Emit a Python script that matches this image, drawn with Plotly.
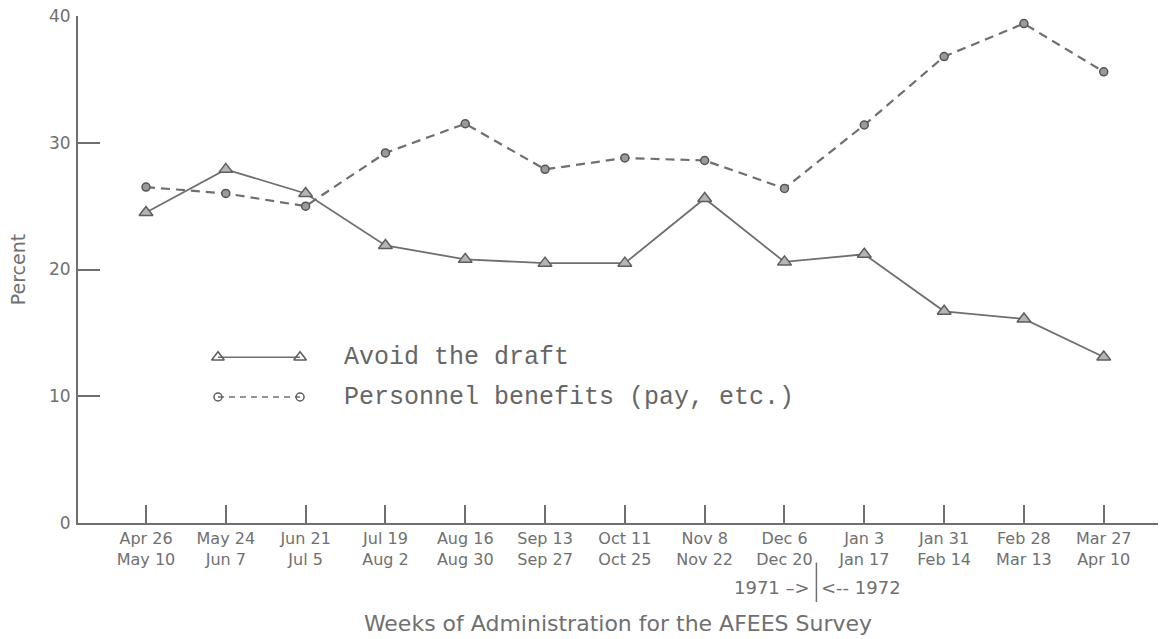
import plotly.graph_objects as go

periods_top = ["Apr 26", "May 24", "Jun 21", "Jul 19", "Aug 16", "Sep 13", "Oct 11",
               "Nov 8", "Dec 6", "Jan 3", "Jan 31", "Feb 28", "Mar 27"]
periods_bottom = ["May 10", "Jun 7", "Jul 5", "Aug 2", "Aug 30", "Sep 27", "Oct 25",
                  "Nov 22", "Dec 20", "Jan 17", "Feb 14", "Mar 13", "Apr 10"]
avoid_draft = [24.5, 27.9, 26.0, 21.9, 20.8, 20.5, 20.5, 25.6, 20.6, 21.2, 16.7, 16.1, 13.1]
personnel_benefits = [26.5, 26.0, 25.0, 29.2, 31.5, 27.9, 28.8, 28.6, 26.4, 31.4, 36.8, 39.4, 35.6]
y_ticks = [0, 10, 20, 30, 40]
series_names = ["Avoid the draft", "Personnel benefits (pay, etc.)"]

GREY = "#6f6f6f"
TXT = "#707070"
SANS = "DejaVu Sans, Verdana, sans-serif"
MONO = "Courier New, Liberation Mono, monospace"

x = list(range(len(periods_top)))
ticktext = [f"{a}<br>{b}" for a, b in zip(periods_top, periods_bottom)]

fig = go.Figure()
fig.add_trace(go.Scatter(
    x=x, y=avoid_draft, mode="lines+markers", name=series_names[0],
    line=dict(color=GREY, width=1.8),
    marker=dict(symbol="triangle-up", size=12, color="#b5b5b5", line=dict(color="#5e5e5e", width=1.5)),
    showlegend=False))
fig.add_trace(go.Scatter(
    x=x, y=personnel_benefits, mode="lines+markers", name=series_names[1],
    line=dict(color=GREY, width=2.2, dash="9px,6px"),
    marker=dict(symbol="circle", size=8, color="#9a9a9a", line=dict(color="#555555", width=1.5)),
    showlegend=False))

# custom legend on an overlay axis (0..1 range)
lx = [0.1296, 0.2056]
ly = [0.327, 0.2485]
fig.add_trace(go.Scatter(
    x=lx, y=[ly[0], ly[0]], xaxis="x2", yaxis="y2", mode="lines+markers",
    line=dict(color=GREY, width=1.5),
    marker=dict(symbol="triangle-up-open", size=11, color="#5e5e5e", line=dict(width=1.5)),
    showlegend=False, hoverinfo="skip"))
fig.add_trace(go.Scatter(
    x=lx, y=[ly[1], ly[1]], xaxis="x2", yaxis="y2", mode="lines+markers",
    line=dict(color=GREY, width=1.5, dash="6px,5px"),
    marker=dict(symbol="circle-open", size=8, color="#5e5e5e", line=dict(width=1.5)),
    showlegend=False, hoverinfo="skip"))
for name, yy in zip(series_names, ly):
    fig.add_annotation(x=0.2444, y=yy, xref="x2", yref="y2", text=name, showarrow=False,
                       xanchor="left", yanchor="middle",
                       font=dict(family=MONO, size=25, color="#666666"))

# year divider
fig.add_annotation(x=8.4, y=-0.128, xref="x", yref="paper", text="1971 \u2013>",
                   showarrow=False, xanchor="right", yanchor="middle", xshift=-4,
                   font=dict(family=SANS, size=18, color=TXT))
fig.add_annotation(x=8.4, y=-0.128, xref="x", yref="paper", text="<-- 1972",
                   showarrow=False, xanchor="left", yanchor="middle", xshift=3,
                   font=dict(family=SANS, size=18, color=TXT))
fig.add_shape(type="line", x0=8.4, x1=8.4, y0=-0.078, y1=-0.156, xref="x", yref="paper",
              line=dict(color=TXT, width=1.5))

fig.update_layout(
    width=1161, height=639,
    margin=dict(l=78, r=3, t=16, b=116),
    paper_bgcolor="white", plot_bgcolor="white",
    xaxis=dict(
        range=[-0.852, 12.68], tickmode="array", tickvals=x, ticktext=ticktext,
        ticks="inside", ticklen=18, tickwidth=2, tickcolor=GREY,
        showline=True, linecolor=GREY, linewidth=2, showgrid=False, zeroline=False,
        tickfont=dict(family=SANS, size=16, color=TXT),
        title=dict(text="Weeks of Administration for the AFEES Survey",
                   font=dict(family=SANS, size=22, color=TXT), standoff=48),
    ),
    yaxis=dict(
        range=[0, 40], tickmode="array", tickvals=y_ticks,
        ticks="inside", ticklen=22, tickwidth=2, tickcolor=GREY,
        showline=True, linecolor=GREY, linewidth=2, showgrid=False, zeroline=False,
        tickfont=dict(family=SANS, size=17, color=TXT), ticklabelstandoff=2,
        title=dict(text="Percent", font=dict(family=SANS, size=19, color=TXT), standoff=18),
    ),
    xaxis2=dict(overlaying="x", range=[0, 1], visible=False, fixedrange=True),
    yaxis2=dict(overlaying="y", range=[0, 1], visible=False, fixedrange=True),
)

fig.write_html("out.html", config={"displayModeBar": False},
               post_script="document.body.style.margin='0';document.body.style.overflow='hidden';")
